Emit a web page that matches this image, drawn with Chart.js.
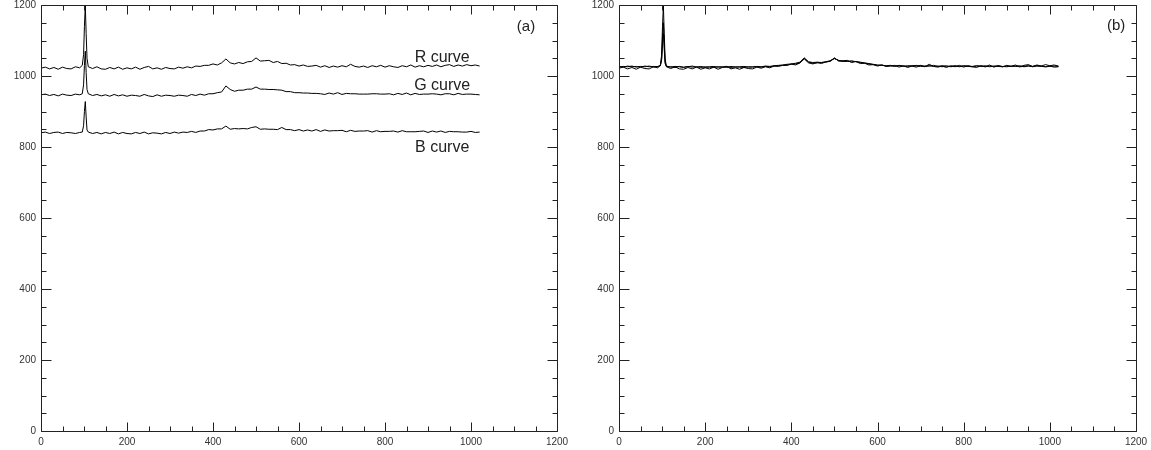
<!DOCTYPE html>
<html>
<head>
<meta charset="utf-8">
<script src="https://cdn.jsdelivr.net/npm/chart.js@4.4.1/dist/chart.umd.min.js"></script>
<style>
  body { margin: 0; background: #fff; }
  #wrapA { position: absolute; left: 0; top: 0; width: 578px; height: 450px; }
  #wrapB { position: absolute; left: 578px; top: 0; width: 573px; height: 450px; }
</style>
</head>
<body>
<div id="wrapA"><canvas id="chartA" width="578" height="450"></canvas></div>
<div id="wrapB"><canvas id="chartB" width="573" height="450"></canvas></div>
<script>
// pixel index (shared by all curves)
const xs = [0, 10, 20, 30, 40, 50, 60, 70, 80, 90,
    96, 99, 101, 103, 105, 107,
    110, 120, 130, 140, 150, 160, 170, 180, 190, 200,
    210, 220, 230, 240, 250, 260, 270, 280, 290, 300,
    310, 320, 330, 340, 350, 360, 370, 380, 390, 400,
    410, 420, 430, 440, 450, 460, 470, 480, 490, 500,
    510, 520, 530, 540, 550, 560, 570, 580, 590, 600,
    610, 620, 630, 640, 650, 660, 670, 680, 690, 700,
    710, 720, 730, 740, 750, 760, 770, 780, 790, 800,
    810, 820, 830, 840, 850, 860, 870, 880, 890, 900,
    910, 920, 930, 940, 950, 960, 970, 980, 990, 1000,
    1010, 1020];

// panel (a)
const rCurve = [1022, 1025, 1020, 1024, 1019, 1025, 1021, 1020, 1026, 1023,
    1030, 1060, 1140, 1198, 1120, 1050,
    1026, 1021, 1026, 1020, 1019, 1024, 1020, 1025, 1019, 1023,
    1020, 1025, 1019, 1024, 1027, 1020, 1023, 1019, 1024, 1021,
    1020, 1025, 1022, 1026, 1023, 1028, 1027, 1030, 1030, 1034,
    1031, 1037, 1048, 1037, 1034, 1038, 1035, 1040, 1041, 1051,
    1042, 1043, 1044, 1038, 1041, 1035, 1036, 1031, 1032, 1028,
    1031, 1027, 1028, 1030, 1025, 1029, 1024, 1028, 1025, 1029,
    1026, 1033, 1027, 1025, 1028, 1024, 1029, 1026, 1030, 1025,
    1029, 1026, 1024, 1029, 1026, 1031, 1025, 1029, 1026, 1030,
    1027, 1031, 1026, 1030, 1032, 1027, 1031, 1028, 1032, 1029,
    1031, 1028];

const gCurve = [947, 949, 945, 948, 944, 949, 946, 945, 949, 947,
    950, 975, 1030, 1070, 1010, 962,
    950, 945, 948, 944, 947, 943, 948, 944, 947, 943,
    946, 945, 943, 948, 944, 942, 947, 943, 946, 945,
    943, 946, 945, 943, 948, 945, 949, 946, 950, 950,
    953, 955, 972, 962, 957, 960, 960, 963, 963, 969,
    963, 963, 962, 962, 961, 960, 956, 956, 953, 953,
    952, 952, 951, 951, 950, 948, 952, 949, 953, 948,
    951, 950, 950, 949, 949, 949, 950, 950, 949, 949,
    950, 947, 951, 948, 952, 947, 951, 948, 949, 949,
    950, 949, 947, 950, 950, 947, 951, 948, 949, 949,
    948, 947];

const bCurve = [840, 842, 838, 841, 842, 838, 841, 840, 838, 841,
    842, 860, 900, 928, 885, 848,
    842, 838, 841, 837, 841, 838, 842, 837, 841, 838,
    837, 841, 838, 842, 837, 840, 839, 837, 841, 838,
    842, 839, 842, 841, 844, 841, 845, 845, 849, 848,
    851, 851, 859, 850, 852, 851, 852, 851, 855, 857,
    850, 851, 850, 850, 849, 855, 849, 849, 846, 849,
    845, 848, 845, 849, 844, 848, 845, 846, 846, 847,
    843, 847, 844, 845, 845, 846, 842, 846, 843, 844,
    844, 845, 842, 846, 843, 843, 843, 844, 845, 841,
    845, 842, 845, 841, 844, 843, 843, 842, 842, 844,
    841, 842];

// panel (b): curves after alignment
const gAligned = [1027, 1025, 1028, 1026, 1027, 1025, 1028, 1026, 1027, 1026,
    1030, 1050, 1110, 1150, 1090, 1040,
    1028, 1025, 1027, 1026, 1024, 1027, 1025, 1026, 1024, 1026,
    1025, 1024, 1026, 1025, 1027, 1024, 1026, 1025, 1024, 1026,
    1025, 1026, 1025, 1027, 1026, 1028, 1029, 1030, 1031, 1033,
    1034, 1037, 1050, 1039, 1036, 1037, 1038, 1039, 1042, 1049,
    1044, 1042, 1041, 1043, 1040, 1039, 1037, 1035, 1033, 1031,
    1030, 1029, 1030, 1028, 1029, 1027, 1029, 1028, 1030, 1027,
    1028, 1029, 1027, 1028, 1026, 1028, 1027, 1029, 1026, 1028,
    1027, 1026, 1028, 1027, 1029, 1026, 1028, 1027, 1026, 1028,
    1027, 1028, 1026, 1027, 1029, 1026, 1028, 1027, 1026, 1028,
    1025, 1026];

const bAligned = [1025, 1027, 1026, 1028, 1025, 1027, 1026, 1028, 1025, 1027,
    1029, 1045, 1090, 1120, 1075, 1035,
    1027, 1026, 1024, 1027, 1025, 1026, 1028, 1025, 1027, 1024,
    1026, 1027, 1025, 1026, 1024, 1027, 1025, 1026, 1027, 1025,
    1026, 1027, 1026, 1028, 1027, 1029, 1030, 1031, 1033, 1034,
    1036, 1039, 1051, 1040, 1038, 1039, 1038, 1040, 1043, 1050,
    1043, 1041, 1042, 1040, 1041, 1038, 1036, 1034, 1032, 1030,
    1031, 1028, 1029, 1027, 1030, 1028, 1027, 1029, 1028, 1030,
    1027, 1028, 1030, 1027, 1029, 1028, 1026, 1028, 1027, 1029,
    1028, 1027, 1029, 1028, 1026, 1028, 1027, 1029, 1027, 1026,
    1028, 1027, 1029, 1026, 1028, 1027, 1029, 1028, 1026, 1027,
    1028, 1027];

const axisMin = 0;
const axisMax = 1200;
const majorStep = 200;
const minorStep = 50;

function toPoints(ys) {
    return xs.map((x, i) => ({ x: x, y: ys[i] }));
}

// box + inward major/minor ticks on all four sides
const frameTicks = {
    id: 'frameTicks',
    afterDraw(chart) {
        const ctx = chart.ctx;
        const a = chart.chartArea;
        const sx = chart.scales.x, sy = chart.scales.y;
        ctx.save();
        ctx.strokeStyle = '#222';
        ctx.lineWidth = 1;
        ctx.beginPath();
        const L = Math.round(a.left) + 0.5, R = Math.round(a.right) + 0.5;
        const T = Math.round(a.top) + 0.5, B = Math.round(a.bottom) + 0.5;
        ctx.moveTo(L, T); ctx.lineTo(R, T); ctx.lineTo(R, B); ctx.lineTo(L, B); ctx.closePath();
        for (let v = axisMin; v <= axisMax; v += minorStep) {
            const major = v % majorStep === 0;
            const px = Math.round(sx.getPixelForValue(v)) + 0.5;
            const py = Math.round(sy.getPixelForValue(v)) + 0.5;
            const lx = major ? 9 : 5;
            const ly = major ? 10 : 5;
            ctx.moveTo(px, B); ctx.lineTo(px, B - lx);
            ctx.moveTo(px, T); ctx.lineTo(px, T + lx);
            ctx.moveTo(L, py); ctx.lineTo(L + ly, py);
            ctx.moveTo(R, py); ctx.lineTo(R - ly, py);
        }
        ctx.stroke();
        ctx.restore();
    }
};

// text labels placed in data coordinates
const panelText = {
    id: 'panelText',
    afterDatasetsDraw(chart, args, opts) {
        const ctx = chart.ctx;
        ctx.save();
        ctx.fillStyle = '#222';
        ctx.textAlign = 'center';
        ctx.textBaseline = 'alphabetic';
        (opts.items || []).forEach(t => {
            ctx.font = t.size + 'px "Liberation Sans", Arial, sans-serif';
            ctx.fillText(t.text, chart.scales.x.getPixelForValue(t.x), chart.scales.y.getPixelForValue(t.y));
        });
        ctx.restore();
    }
};

function makeChart(id, series, padRight, items) {
    const datasets = series.map(ys => ({
        data: toPoints(ys),
        borderColor: '#000',
        borderWidth: 1,
        pointRadius: 0,
        tension: 0,
        fill: false
    }));
    const tickFont = { family: '"Liberation Sans", Arial, sans-serif', size: 10 };
    return new Chart(document.getElementById(id), {
        type: 'line',
        data: { datasets },
        options: {
            responsive: false,
            animation: false,
            layout: { padding: { top: 5, right: padRight, left: 0, bottom: 0 } },
            plugins: {
                legend: { display: false },
                tooltip: { enabled: false },
                panelText: { items: items }
            },
            scales: {
                x: {
                    type: 'linear',
                    min: axisMin,
                    max: axisMax,
                    grid: { display: false, drawTicks: false },
                    border: { display: false },
                    ticks: {
                        stepSize: majorStep,
                        padding: 5,
                        color: '#333',
                        font: tickFont,
                        maxRotation: 0,
                        autoSkip: false,
                        callback: v => String(v)
                    },
                    afterFit: s => { s.height = 19; s.paddingLeft = 0; s.paddingRight = 0; }
                },
                y: {
                    type: 'linear',
                    min: axisMin,
                    max: axisMax,
                    grid: { display: false, drawTicks: false },
                    border: { display: false },
                    ticks: {
                        stepSize: majorStep,
                        padding: 5,
                        color: '#333',
                        font: tickFont,
                        autoSkip: false,
                        callback: v => String(v)
                    },
                    afterFit: s => { s.width = 41; s.paddingTop = 0; s.paddingBottom = 0; }
                }
            }
        },
        plugins: [frameTicks, panelText]
    });
}

makeChart('chartA', [rCurve, gCurve, bCurve], 21, [
    { text: 'R curve', x: 933, y: 1040, size: 16 },
    { text: 'G curve', x: 933, y: 961, size: 16 },
    { text: 'B curve', x: 933, y: 787, size: 16 },
    { text: '(a)', x: 1128, y: 1127, size: 15 }
]);

makeChart('chartB', [rCurve, gAligned, bAligned], 15, [
    { text: '(b)', x: 1154, y: 1130, size: 15 }
]);
</script>
</body>
</html>
